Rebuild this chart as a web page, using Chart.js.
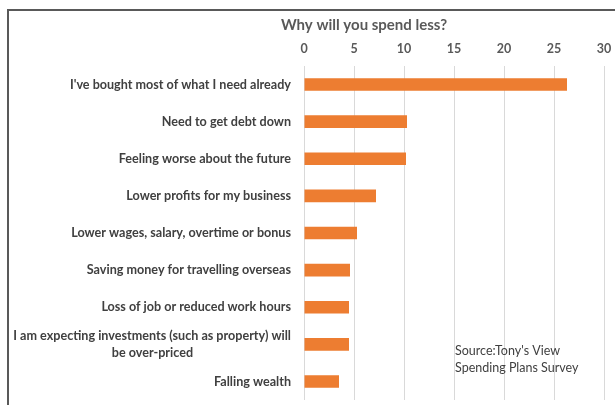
<!DOCTYPE html>
<html>
<head>
<meta charset="utf-8">
<script src="https://cdn.jsdelivr.net/npm/chart.js@4"></script>
<style>
  html, body { margin: 0; padding: 0; background: #fff; }
  #wrap { position: relative; width: 615px; height: 405px; }
  #frame { position: absolute; left: 7px; top: 9px; right: 0; bottom: 0;
           border-left: 2px solid #595959; border-top: 2px solid #595959; }
  canvas { position: absolute; left: 0; top: 0; }
</style>
</head>
<body>
<div id="wrap">
  <div id="frame"></div>
  <canvas id="chart" width="615" height="405"></canvas>
</div>
<script>
const reasons = [
  "I've bought most of what I need already",
  "Need to get debt down",
  "Feeling worse about the future",
  "Lower profits for my business",
  "Lower wages, salary, overtime or bonus",
  "Saving money for travelling overseas",
  "Loss of job or reduced work hours",
  ["I am expecting investments (such as property) will", "be over-priced"],
  "Falling wealth"
];
const responses = [26.3, 10.3, 10.2, 7.2, 5.3, 4.6, 4.5, 4.5, 3.5];
const xTicks = [0, 5, 10, 15, 20, 25, 30];

const chartTitle = "Why will you spend less?";
const sourceNote = ["Source:Tony's View", "Spending Plans Survey"];

const labelFont = 'bold 12.6px Lato';

// wrapped labels: centre the shorter lines under the longest one
// by padding them with no-break spaces (labels are drawn right-aligned)
const measureCtx = document.createElement('canvas').getContext('2d');
measureCtx.font = labelFont;
function centreLines(label) {
  if (!Array.isArray(label)) return label;
  const widest = Math.max(...label.map(l => measureCtx.measureText(l).width));
  const space = measureCtx.measureText('\u00A0').width;
  return label.map(l => {
    const gap = (widest - measureCtx.measureText(l).width) / 2;
    return l + '\u00A0'.repeat(Math.round(gap / space));
  });
}

// title and source note are placed freely, outside the normal layout boxes
const textPlugin = {
  id: 'freeText',
  afterDraw(chart) {
    const ctx = chart.ctx;
    ctx.save();
    ctx.fillStyle = '#595959';
    ctx.font = 'bold 15px Lato';
    ctx.textAlign = 'center';
    ctx.textBaseline = 'middle';
    ctx.fillText(chartTitle, 364, 25);

    ctx.fillStyle = '#404040';
    ctx.font = '12.5px Lato';
    ctx.textAlign = 'left';
    sourceNote.forEach((line, i) => ctx.fillText(line, 455, 351 + i * 17));
    ctx.restore();
  }
};

document.fonts.load(labelFont).then(() => {
  new Chart(document.getElementById('chart'), {
    type: 'bar',
    data: {
      labels: reasons.map(centreLines),
      datasets: [{
        data: responses,
        backgroundColor: '#ED7D31',
        barPercentage: 0.34,
        categoryPercentage: 1
      }]
    },
    options: {
      indexAxis: 'y',
      responsive: false,
      animation: false,
      layout: { padding: { top: 36, right: 11, bottom: 5, left: 0 } },
      plugins: { legend: { display: false }, tooltip: { enabled: false } },
      scales: {
        x: {
          position: 'top',
          min: 0,
          max: 30,
          afterBuildTicks: axis => { axis.ticks = xTicks.map(v => ({ value: v })); },
          afterFit: axis => {
            axis.height = 30;
            axis.paddingLeft = 0;
            axis.paddingRight = 0;
          },
          grid: { color: '#D9D9D9', drawTicks: false },
          border: { display: false },
          ticks: { color: '#595959', font: { family: 'Lato', size: 12.5, weight: 'bold' }, padding: 10 }
        },
        y: {
          afterFit: axis => {
            axis.width = 304;
            axis.paddingTop = 0;
            axis.paddingBottom = 0;
          },
          grid: { display: false, drawTicks: false },
          border: { display: false },
          ticks: {
            color: '#404040',
            font: { family: 'Lato', size: 12.6, weight: 'bold', lineHeight: 1.3 },
            padding: 13,
            autoSkip: false
          }
        }
      }
    },
    plugins: [textPlugin]
  });
});
</script>
</body>
</html>
